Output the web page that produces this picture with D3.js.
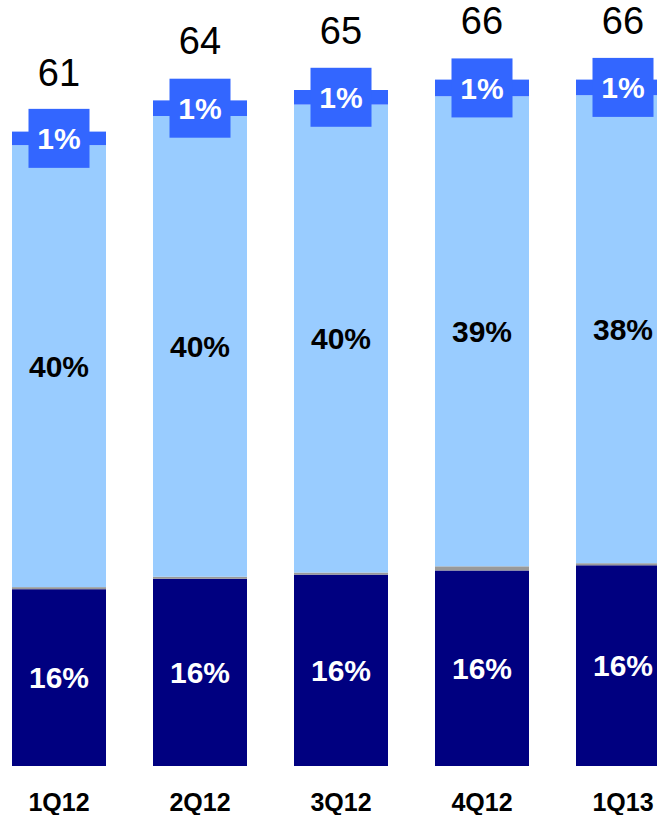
<!DOCTYPE html>
<html>
<head>
<meta charset="utf-8">
<script src="https://cdn.jsdelivr.net/npm/d3@7/dist/d3.min.js"></script>
<style>
  html, body { margin: 0; padding: 0; background: #fff; }
  svg { display: block; }
  text { font-family: "Liberation Sans", Arial, sans-serif; }
</style>
</head>
<body>
<svg id="chart" width="657" height="815"></svg>
<script>
// Quarters on the x axis
const quarters = ["1Q12", "2Q12", "3Q12", "4Q12", "1Q13"];

// Stack components (bottom to top), in the same units as the totals
const baseValues  = [17.0, 18.0, 18.4, 18.8, 19.3];
const greyValues  = [0.2, 0.2, 0.2, 0.4, 0.2];
const lightValues = [42.5, 44.3, 45.0, 45.2, 45.0];
const topValues   = [1.3, 1.5, 1.4, 1.6, 1.5];

// Totals shown above each column
const totals = [61, 64, 65, 66, 66];

// Percentage labels written on the segments
const basePct  = ["16%", "16%", "16%", "16%", "16%"];
const lightPct = ["40%", "40%", "40%", "39%", "38%"];
const topPct   = ["1%", "1%", "1%", "1%", "1%"];

const svg = d3.select("#chart");

const x = d3.scaleBand()
  .domain(quarters)
  .range([12, 670])
  .paddingInner(1 / 3)
  .paddingOuter(0);

const y = d3.scaleLinear()
  .domain([0, 66])
  .range([766, 79.6]);

const keys = ["base", "grey", "light", "top"];
const colors = { base: "#000080", grey: "#999999", light: "#99CCFF", top: "#3366FF" };

const rows = quarters.map((q, i) => ({
  q,
  base: baseValues[i],
  grey: greyValues[i],
  light: lightValues[i],
  top: topValues[i]
}));

const series = d3.stack().keys(keys)(rows);

svg.append("g")
  .selectAll("g")
  .data(series)
  .join("g")
  .attr("fill", d => colors[d.key])
  .selectAll("rect")
  .data(d => d)
  .join("rect")
  .attr("x", d => x(d.data.q))
  .attr("width", x.bandwidth())
  .attr("y", d => y(d[1]))
  .attr("height", d => y(d[0]) - y(d[1]));

const cx = q => x(q) + x.bandwidth() / 2;
const topSeries = series.find(s => s.key === "top");
const lightSeries = series.find(s => s.key === "light");
const baseSeries = series.find(s => s.key === "base");

// Callout boxes on the thin top segment
const boxW = 61, boxH = 59;
const callouts = svg.append("g")
  .selectAll("g")
  .data(topSeries)
  .join("g")
  .attr("transform", d => `translate(${cx(d.data.q)},${(y(d[0]) + y(d[1])) / 2})`);

callouts.append("rect")
  .attr("x", -boxW / 2)
  .attr("y", -boxH / 2)
  .attr("width", boxW)
  .attr("height", boxH)
  .attr("fill", "#3366FF");

callouts.append("text")
  .attr("text-anchor", "middle")
  .attr("dy", "0.36em")
  .attr("fill", "#fff")
  .attr("font-weight", "bold")
  .attr("font-size", 30)
  .text((d, i) => topPct[i]);

// Labels in the middle of the light and dark segments
svg.append("g")
  .selectAll("text")
  .data(lightSeries)
  .join("text")
  .attr("x", d => cx(d.data.q))
  .attr("y", d => (y(d[0]) + y(d[1])) / 2)
  .attr("dy", "0.36em")
  .attr("text-anchor", "middle")
  .attr("font-weight", "bold")
  .attr("font-size", 30)
  .attr("fill", "#000")
  .text((d, i) => lightPct[i]);

svg.append("g")
  .selectAll("text")
  .data(baseSeries)
  .join("text")
  .attr("x", d => cx(d.data.q))
  .attr("y", d => (y(d[0]) + y(d[1])) / 2)
  .attr("dy", "0.36em")
  .attr("text-anchor", "middle")
  .attr("font-weight", "bold")
  .attr("font-size", 30)
  .attr("fill", "#fff")
  .text((d, i) => basePct[i]);

// Totals above the columns
svg.append("g")
  .selectAll("text")
  .data(quarters)
  .join("text")
  .attr("x", q => cx(q))
  .attr("y", (q, i) => y(totals[i]) - 46)
  .attr("text-anchor", "middle")
  .attr("font-size", 38)
  .attr("fill", "#000")
  .text((q, i) => totals[i]);

// Category axis without line or ticks
const xAxis = svg.append("g")
  .attr("transform", `translate(0,${y(0)})`)
  .call(d3.axisBottom(x).tickSize(0).tickPadding(0));
xAxis.select(".domain").remove();
xAxis.selectAll("text")
  .attr("dy", null)
  .attr("y", 45)
  .attr("font-family", "'Liberation Sans', Arial, sans-serif")
  .attr("font-weight", "bold")
  .attr("font-size", 25)
  .attr("fill", "#000");
</script>
</body>
</html>
